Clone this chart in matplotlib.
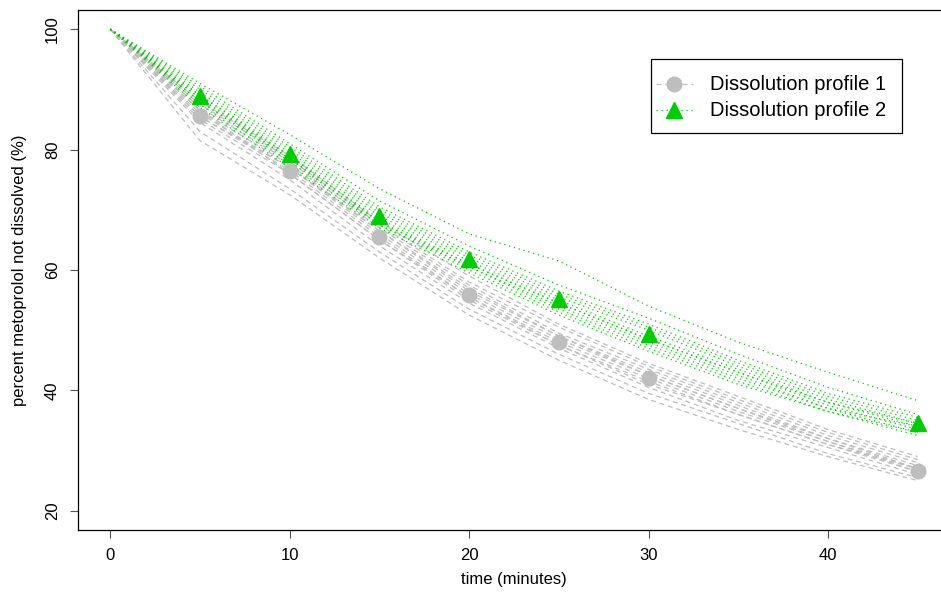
import matplotlib
matplotlib.use("Agg")
import matplotlib.pyplot as plt
from matplotlib.lines import Line2D
from matplotlib.patches import Rectangle

plt.rcParams['font.family'] = ['Liberation Sans', 'DejaVu Sans']

times = [0, 5, 10, 15, 20, 25, 30, 35, 40, 45]

profile1_units = [
    [100, 81.5, 72.5, 62.0, 52.5, 45.0, 38.5, 33.5, 29.0, 25.0],
    [100, 83.0, 73.5, 63.0, 53.5, 46.0, 39.5, 34.5, 29.5, 25.5],
    [100, 84.5, 75.0, 64.0, 54.5, 47.0, 40.5, 35.0, 30.5, 26.0],
    [100, 85.0, 76.0, 65.0, 55.0, 47.5, 41.5, 36.0, 31.0, 26.5],
    [100, 85.5, 76.5, 65.5, 55.5, 48.0, 42.0, 36.5, 31.5, 26.5],
    [100, 86.0, 77.0, 66.0, 56.0, 48.5, 42.5, 37.0, 32.0, 27.0],
    [100, 86.5, 77.5, 66.5, 56.5, 49.0, 43.0, 37.5, 32.0, 27.5],
    [100, 87.0, 78.0, 67.0, 57.5, 49.5, 43.5, 38.0, 32.5, 28.0],
    [100, 87.5, 78.5, 67.5, 58.0, 50.5, 44.0, 38.5, 33.0, 28.5],
    [100, 88.0, 79.0, 68.0, 59.0, 51.0, 44.5, 39.0, 33.5, 29.0],
    [100, 85.5, 77.0, 66.5, 57.0, 49.0, 42.5, 37.0, 31.5, 27.0],
    [100, 86.5, 76.0, 65.0, 55.5, 47.5, 41.0, 36.0, 31.0, 27.0],
]

profile2_units = [
    [100, 91.0, 82.5, 73.5, 66.0, 61.5, 54.0, 48.0, 43.0, 38.3],
    [100, 90.5, 81.0, 71.5, 64.0, 57.5, 52.0, 46.0, 40.5, 36.0],
    [100, 90.0, 80.5, 70.5, 63.0, 56.5, 51.0, 45.0, 39.5, 35.5],
    [100, 89.5, 80.0, 70.0, 62.5, 56.0, 50.5, 44.5, 39.0, 35.0],
    [100, 89.0, 79.5, 69.5, 62.0, 55.5, 50.0, 44.0, 38.5, 34.5],
    [100, 88.5, 79.0, 69.0, 61.5, 55.0, 49.0, 43.5, 38.0, 34.0],
    [100, 88.0, 78.5, 68.5, 61.0, 54.5, 48.5, 43.0, 37.5, 33.5],
    [100, 88.0, 78.0, 68.0, 60.5, 54.0, 48.0, 42.5, 37.0, 33.0],
    [100, 87.5, 77.5, 67.5, 60.0, 53.0, 47.0, 41.5, 36.5, 32.5],
    [100, 88.5, 78.5, 67.5, 60.5, 53.5, 47.5, 42.0, 37.0, 34.0],
    [100, 89.0, 79.0, 68.0, 61.0, 54.5, 48.5, 43.0, 38.0, 34.5],
    [100, 87.0, 77.0, 67.0, 59.5, 52.5, 46.5, 41.0, 36.5, 33.0],
]

mean_times = [5, 10, 15, 20, 25, 30, 45]
profile1_mean = [85.6, 76.5, 65.5, 55.8, 48.1, 42.0, 26.6]
profile2_mean = [88.9, 79.3, 69.0, 61.9, 55.2, 49.4, 34.5]

labels = ["Dissolution profile 1", "Dissolution profile 2"]
grey = "#BEBEBE"
green = "#00CD00"
dash1 = (0, (4, 3))
dash2 = (0, (1, 3))

W, H = 941, 601
fig = plt.figure(figsize=(W / 100, H / 100), dpi=100)
ax = fig.add_axes([78 / W, 1 - 530 / H, (950 - 78) / W, 520 / H])

for u in profile1_units:
    ax.plot(times, u, color=grey, lw=0.9, ls=dash1)
for u in profile2_units:
    ax.plot(times, u, color=green, lw=0.9, ls=dash2)

ax.plot(mean_times, profile1_mean, ls='none', marker='o', ms=10.5, color=grey, mec=grey)
ax.plot(mean_times, profile2_mean, ls='none', marker='^', ms=11.5, color=green, mec=green)

ax.set_xlim(-1.8, 46.8)
ax.set_ylim(16.8, 103.2)
ax.set_xticks([0, 10, 20, 30, 40])
ax.set_yticks([20, 40, 60, 80, 100])
ax.tick_params(axis='both', length=6, width=0.8, labelsize=12, pad=7, color='#555555')
for lab in ax.get_yticklabels():
    lab.set_rotation(90)
    lab.set_va('center')
for s in ax.spines.values():
    s.set_linewidth(0.9)

ax.set_xlabel("time (minutes)", fontsize=12, labelpad=6.5)
ax.set_ylabel("percent metoprolol not dissolved (%)", fontsize=12, labelpad=13)

# legend drawn manually in figure pixel positions
def fx(x):
    return x / W

def fy(y):
    return 1 - y / H

fig.patches.append(Rectangle((fx(651), fy(133)), fx(902) - fx(651), fy(59) - fy(133),
                             transform=fig.transFigure, fill=True, facecolor='white',
                             edgecolor='black', lw=0.9, zorder=5))
rows = [(84, grey, dash1, 'o', 10.5), (110, green, dash2, '^', 11.5)]
for (yy, c, ls, m, ms), lab in zip(rows, labels):
    fig.lines.append(Line2D([fx(656), fx(693)], [fy(yy), fy(yy)], transform=fig.transFigure,
                            color=c, ls=ls, lw=0.9, zorder=6))
    fig.lines.append(Line2D([fx(674)], [fy(yy)], transform=fig.transFigure, ls='none',
                            marker=m, ms=ms, color=c, mec=c, zorder=7))
    fig.text(fx(710), fy(yy), lab, fontsize=14.5, va='center', ha='left', zorder=7)

fig.savefig("out.png", dpi=100)
